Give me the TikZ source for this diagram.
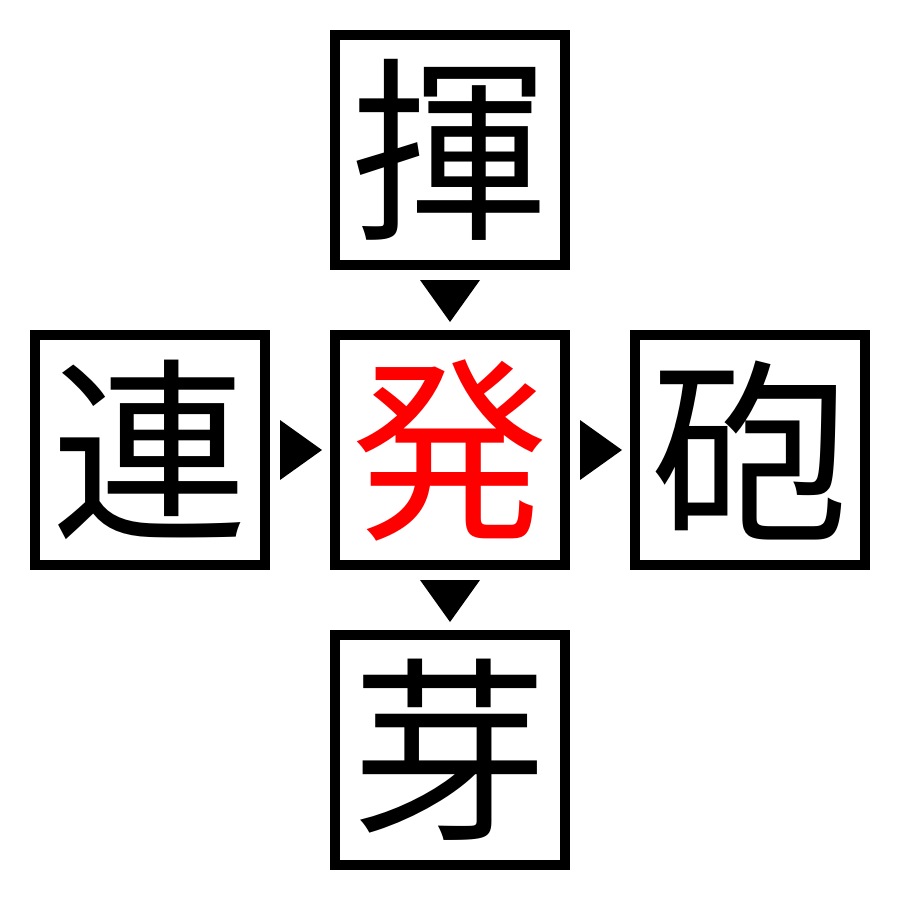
\documentclass[tikz,border=0pt]{standalone}
\usepackage{fontspec}
\usetikzlibrary{calc}
\newfontfamily\jp{Noto Sans CJK JP}
\begin{document}
\begin{tikzpicture}[x=0.01cm,y=-0.01cm,
  kbox/.style={draw=black,line width=0.1cm,minimum size=2.3cm,inner sep=0pt,font=\jp\fontsize{56pt}{56pt}\selectfont},
  tri/.style={fill=black,draw=none}]
\useasboundingbox (0,0) rectangle (900,900);
\node[kbox] (top) at (450,150) {揮};
\node[kbox] (left) at (150,450) {連};
\node[kbox,text=red] (mid) at (450,450) {発};
\node[kbox] (right) at (750,450) {砲};
\node[kbox] (bot) at (450,750) {芽};
% down triangles
\coordinate (d1) at ($(top.south)!0.5!(mid.north)$);
\fill[tri] ($(d1)+(-30,-20)$) -- ($(d1)+(30,-20)$) -- ($(d1)+(0,22)$) -- cycle;
\coordinate (d2) at ($(mid.south)!0.5!(bot.north)$);
\fill[tri] ($(d2)+(-30,-20)$) -- ($(d2)+(30,-20)$) -- ($(d2)+(0,22)$) -- cycle;
% right triangles
\coordinate (r1) at ($(left.east)!0.5!(mid.west)$);
\fill[tri] ($(r1)+(-20,-30)$) -- ($(r1)+(-20,30)$) -- ($(r1)+(22,0)$) -- cycle;
\coordinate (r2) at ($(mid.east)!0.5!(right.west)$);
\fill[tri] ($(r2)+(-20,-30)$) -- ($(r2)+(-20,30)$) -- ($(r2)+(22,0)$) -- cycle;
\end{tikzpicture}
\end{document}
